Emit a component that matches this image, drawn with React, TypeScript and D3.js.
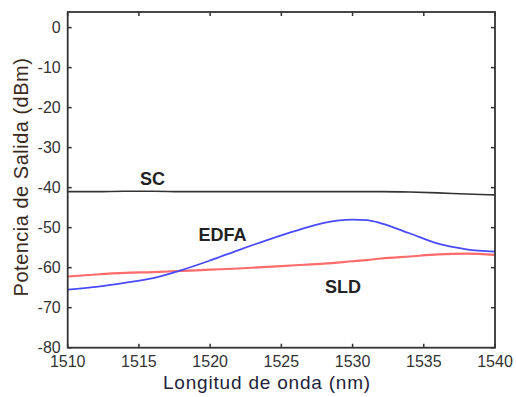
import React from 'react';
import * as d3 from 'd3';

const wavelengths = [1510, 1512, 1514, 1516, 1518, 1520, 1522, 1524, 1526, 1528, 1530, 1531, 1532, 1534, 1536, 1538, 1540];
const scValues = [-41, -41, -40.9, -40.9, -41, -41, -41, -41, -41, -41, -41, -41, -41, -41.1, -41.3, -41.6, -41.8];
const edfaValues = [-65.5, -64.8, -63.8, -62.6, -60.6, -58.2, -55.6, -53.1, -50.8, -48.8, -48, -48.1, -48.9, -51.4, -54, -55.4, -56];
const sldValues = [-62.2, -61.7, -61.3, -61.1, -60.8, -60.5, -60.2, -59.8, -59.4, -59, -58.4, -58.1, -57.7, -57.2, -56.7, -56.5, -56.8];
const xTicks = [1510, 1515, 1520, 1525, 1530, 1535, 1540];
const yTicks = [0, -10, -20, -30, -40, -50, -60, -70, -80];

const W = 516, H = 397;

export default function App() {
  const x = d3.scaleLinear().domain([1510, 1540]).range([67.7, 495]);
  const y = d3.scaleLinear().domain([-80, 3.9]).range([347.7, 12]);
  const line = (vals: number[]) =>
    d3.line<number>().x((_, i) => x(wavelengths[i])).y(d => y(d)).curve(d3.curveMonotoneX)(vals) || '';

  const x0 = x.range()[0], x1 = x.range()[1];
  const y0 = y.range()[0], y1 = y.range()[1];
  const tl = 4;
  const font = 'Arial, "Liberation Sans", sans-serif';

  return (
    <svg width={W} height={H} style={{ position: 'absolute', left: 0, top: 0, background: '#fff' }} fontFamily={font}>
      <path d={line(sldValues)} fill="none" stroke="#ff5a5a" strokeWidth={2.2} opacity={0.9} />
      <path d={line(edfaValues)} fill="none" stroke="#4a4aff" strokeWidth={1.8} />
      <path d={line(scValues)} fill="none" stroke="#333" strokeWidth={1.6} />

      <rect x={x0} y={y1} width={x1 - x0} height={y0 - y1} fill="none" stroke="#333" strokeWidth={1.8} />
      {xTicks.map(t => (
        <g key={'x' + t}>
          <line x1={x(t)} x2={x(t)} y1={y0} y2={y0 - tl} stroke="#333" strokeWidth={1.5} />
          <line x1={x(t)} x2={x(t)} y1={y1} y2={y1 + tl} stroke="#333" strokeWidth={1.5} />
          <text x={x(t)} y={y0 + 19} textAnchor="middle" fontSize={16} fill="#333">{t}</text>
        </g>
      ))}
      {yTicks.map(t => (
        <g key={'y' + t}>
          <line x1={x0} x2={x0 + tl} y1={y(t)} y2={y(t)} stroke="#333" strokeWidth={1.5} />
          <line x1={x1} x2={x1 - tl} y1={y(t)} y2={y(t)} stroke="#333" strokeWidth={1.5} />
          <text x={x0 - 7} y={y(t)} dy="0.36em" textAnchor="end" fontSize={16} fill="#333">{t}</text>
        </g>
      ))}

      <text x={152.5} y={185} textAnchor="middle" fontSize={18} fontWeight="bold" fill="#222">SC</text>
      <text x={222.5} y={241} textAnchor="middle" fontSize={18} fontWeight="bold" fill="#222">EDFA</text>
      <text x={343} y={293} textAnchor="middle" fontSize={18} fontWeight="bold" fill="#222">SLD</text>

      <text x={267} y={389} textAnchor="middle" fontSize={19} letterSpacing={0.8} fill="#1e1e3a">Longitud de onda (nm)</text>
      <text transform={`translate(28,177) rotate(-90)`} textAnchor="middle" fontSize={20} letterSpacing={0.5} fill="#3a2a1e">Potencia de Salida (dBm)</text>
    </svg>
  );
}
